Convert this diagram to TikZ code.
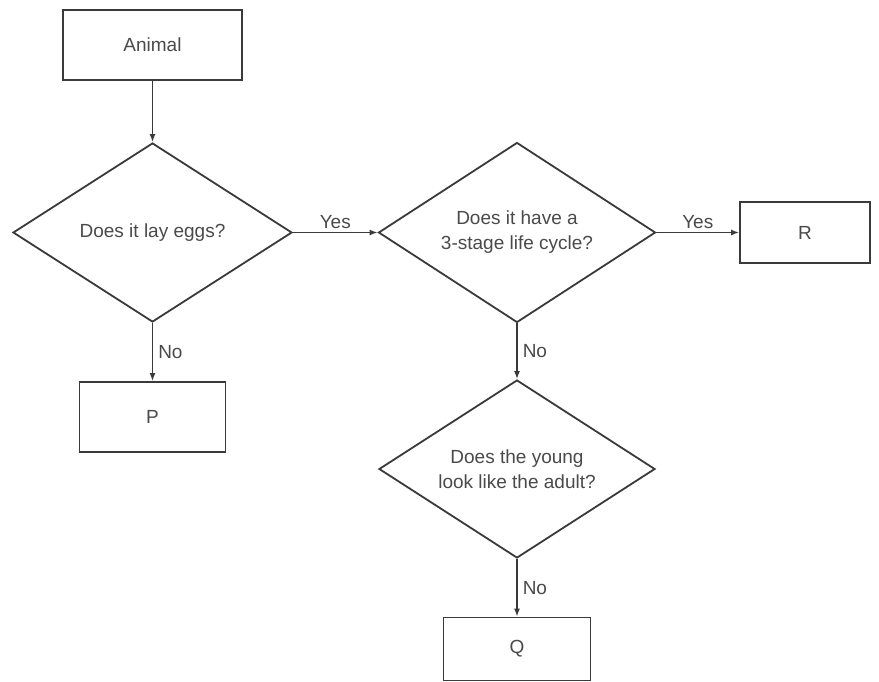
\documentclass[tikz,border=0pt]{standalone}
\usepackage{fontspec}
\setmainfont{Liberation Sans}
\usetikzlibrary{shapes.geometric,arrows.meta}
\definecolor{ln}{HTML}{3A3A3A}
\definecolor{tx}{HTML}{4A4A4A}
\begin{document}
\begin{tikzpicture}[x=1pt,y=-1pt,
  every node/.style={text=tx,font=\fontsize{19}{25}\selectfont},
  box/.style={draw=ln,line width=1.8pt,rectangle,inner sep=0pt},
  dia/.style={draw=ln,line width=1.8pt,diamond,aspect=1.55,inner sep=0pt,align=center},
  conn/.style={draw=ln,line width=1.5pt,-{Latex[length=8pt,width=6pt]}},
  lab/.style={inner sep=1pt}]
\path[use as bounding box,fill=white] (0,0) rectangle (879,681);
\node[box,minimum width=179pt,minimum height=70pt] (animal) at (152.5,45) {Animal};
\node[dia,minimum width=279pt,minimum height=179pt] (d1) at (152.5,232.5) {Does it lay eggs?};
\node[dia,minimum width=277pt,minimum height=180pt] (d2) at (517,232.5) {Does it have a\\3-stage life cycle?};
\node[box,minimum width=130pt,minimum height=61pt] (r) at (805,232.5) {R};
\node[box,minimum width=146pt,minimum height=70pt] (p) at (152.5,417) {P};
\node[dia,minimum width=276pt,minimum height=178pt] (d3) at (517,469) {Does the young\\look like the adult?};
\node[box,minimum width=147pt,minimum height=63pt] (q) at (517,649) {Q};
\draw[conn] (animal.south) -- (d1.north);
\draw[conn] (d1.east) -- node[lab,above=2pt] {Yes} (d2.west);
\draw[conn] (d2.east) -- node[lab,above=2pt] {Yes} (r.west);
\draw[conn] (d1.south) -- node[lab,right=4pt] {No} (p.north);
\draw[conn] (d2.south) -- node[lab,right=4pt] {No} (d3.north);
\draw[conn] (d3.south) -- node[lab,right=4pt] {No} (q.north);
\end{tikzpicture}
\end{document}
